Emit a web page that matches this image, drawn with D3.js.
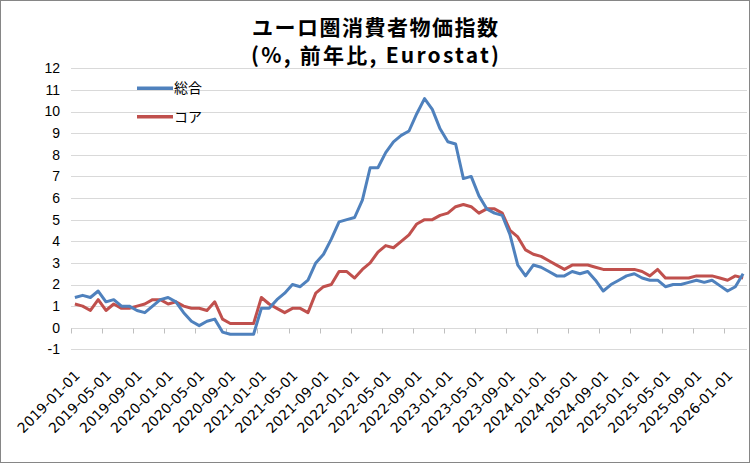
<!DOCTYPE html>
<html>
<head>
<meta charset="utf-8">
<script src="https://cdn.jsdelivr.net/npm/d3@7"></script>
<style>
  body { margin: 0; background: #fff; }
  svg { display: block; }
</style>
</head>
<body>
<div id="chart"></div>
<script>
// Months shown on the category axis
const months = [
  '2019-01-01','2019-02-01','2019-03-01','2019-04-01','2019-05-01','2019-06-01','2019-07-01','2019-08-01','2019-09-01','2019-10-01','2019-11-01','2019-12-01',
  '2020-01-01','2020-02-01','2020-03-01','2020-04-01','2020-05-01','2020-06-01','2020-07-01','2020-08-01','2020-09-01','2020-10-01','2020-11-01','2020-12-01',
  '2021-01-01','2021-02-01','2021-03-01','2021-04-01','2021-05-01','2021-06-01','2021-07-01','2021-08-01','2021-09-01','2021-10-01','2021-11-01','2021-12-01',
  '2022-01-01','2022-02-01','2022-03-01','2022-04-01','2022-05-01','2022-06-01','2022-07-01','2022-08-01','2022-09-01','2022-10-01','2022-11-01','2022-12-01',
  '2023-01-01','2023-02-01','2023-03-01','2023-04-01','2023-05-01','2023-06-01','2023-07-01','2023-08-01','2023-09-01','2023-10-01','2023-11-01','2023-12-01',
  '2024-01-01','2024-02-01','2024-03-01','2024-04-01','2024-05-01','2024-06-01','2024-07-01','2024-08-01','2024-09-01','2024-10-01','2024-11-01','2024-12-01',
  '2025-01-01','2025-02-01','2025-03-01','2025-04-01','2025-05-01','2025-06-01','2025-07-01','2025-08-01','2025-09-01','2025-10-01','2025-11-01','2025-12-01',
  '2026-01-01','2026-02-01','2026-03-01'
]

// 総合 (headline HICP, % y/y)
const headline = [
  1.4, 1.5, 1.4, 1.7, 1.2, 1.3, 1.0, 1.0, 0.8, 0.7, 1.0, 1.3,
  1.4, 1.2, 0.7, 0.3, 0.1, 0.3, 0.4, -0.2, -0.3, -0.3, -0.3, -0.3,
  0.9, 0.9, 1.3, 1.6, 2.0, 1.9, 2.2, 3.0, 3.4, 4.1, 4.9, 5.0,
  5.1, 5.9, 7.4, 7.4, 8.1, 8.6, 8.9, 9.1, 9.9, 10.6, 10.1, 9.2,
  8.6, 8.5, 6.9, 7.0, 6.1, 5.5, 5.3, 5.2, 4.3, 2.9, 2.4, 2.9,
  2.8, 2.6, 2.4, 2.4, 2.6, 2.5, 2.6, 2.2, 1.7, 2.0, 2.2, 2.4,
  2.5, 2.3, 2.2, 2.2, 1.9, 2.0, 2.0, 2.1, 2.2, 2.1, 2.2, 1.95,
  1.7, 1.9, 2.5
]

// コア (ex energy, food, alcohol & tobacco)
const core = [
  1.1, 1.0, 0.8, 1.3, 0.8, 1.1, 0.9, 0.9, 1.0, 1.1, 1.3, 1.3,
  1.1, 1.2, 1.0, 0.9, 0.9, 0.8, 1.2, 0.4, 0.2, 0.2, 0.2, 0.2,
  1.4, 1.1, 0.9, 0.7, 0.9, 0.9, 0.7, 1.6, 1.9, 2.0, 2.6, 2.6,
  2.3, 2.7, 3.0, 3.5, 3.8, 3.7, 4.0, 4.3, 4.8, 5.0, 5.0, 5.2,
  5.3, 5.6, 5.7, 5.6, 5.3, 5.5, 5.5, 5.3, 4.5, 4.2, 3.6, 3.4,
  3.3, 3.1, 2.9, 2.7, 2.9, 2.9, 2.9, 2.8, 2.7, 2.7, 2.7, 2.7,
  2.7, 2.6, 2.4, 2.7, 2.3, 2.3, 2.3, 2.3, 2.4, 2.4, 2.4, 2.3,
  2.2, 2.4, 2.3
]

const yTicks = [-1, 0, 1, 2, 3, 4, 5, 6, 7, 8, 9, 10, 11, 12]

const series = [
  { name: '総合', values: headline, color: '#4f81bd' },
  { name: 'コア', values: core, color: '#c0504d' }
]

const width = 750
const height = 463
const margin = { left: 71, right: 3, top: 68.3, bottom: 113.6 }

const svg = d3.select('#chart').append('svg')
  .attr('width', width)
  .attr('height', height)

// outer frame
svg.append('rect')
  .attr('x', 0.5).attr('y', 0.5)
  .attr('width', width - 1).attr('height', height - 1)
  .attr('fill', '#fff')
  .attr('stroke', '#868686')

const x = d3.scaleBand()
  .domain(months)
  .range([margin.left, width - margin.right])
  .padding(0)

const y = d3.scaleLinear()
  .domain([-1, 12])
  .range([height - margin.bottom, margin.top])

const cx = d => x(d) + x.bandwidth() / 2

// horizontal gridlines
svg.append('g')
  .selectAll('line')
  .data(yTicks)
  .join('line')
  .attr('x1', margin.left)
  .attr('x2', width - margin.right)
  .attr('y1', d => Math.round(y(d)) + 0.5)
  .attr('y2', d => Math.round(y(d)) + 0.5)
  .attr('stroke', '#d9d9d9')
  .attr('stroke-width', 1)

// y labels
svg.append('g')
  .selectAll('text')
  .data(yTicks)
  .join('text')
  .attr('x', 60)
  .attr('y', d => y(d))
  .attr('dy', '0.35em')
  .attr('text-anchor', 'end')
  .attr('font-family', 'Liberation Sans, Arial, sans-serif')
  .attr('font-size', '14px')
  .attr('fill', '#000')
  .text(d => d)

// category ticks on the zero line, every 4 months
const tickMonths = months.filter((d, i) => i % 4 === 0)
const y0 = Math.round(y(0)) + 0.5

svg.append('g')
  .selectAll('line')
  .data(tickMonths)
  .join('line')
  .attr('x1', d => Math.round(x(d)) + 0.5)
  .attr('x2', d => Math.round(x(d)) + 0.5)
  .attr('y1', y0)
  .attr('y2', y0 + 5)
  .attr('stroke', '#bfbfbf')

// rotated month labels at the bottom
svg.append('g')
  .selectAll('text')
  .data(tickMonths)
  .join('text')
  .attr('transform', d => `translate(${cx(d) + 6},${y(-1) + 27}) rotate(-45)`)
  .attr('text-anchor', 'end')
  .attr('font-family', 'DejaVu Sans, sans-serif')
  .attr('font-size', '14px')
  .attr('fill', '#000')
  .text(d => d)

// lines
const line = d3.line()
  .x((d, i) => cx(months[i]))
  .y(d => y(d))

svg.append('g')
  .selectAll('path')
  .data(series.slice().reverse())
  .join('path')
  .attr('d', d => line(d.values))
  .attr('fill', 'none')
  .attr('stroke', d => d.color)
  .attr('stroke-width', 3)
  .attr('stroke-linejoin', 'round')

// legend
const legend = svg.append('g')
  .selectAll('g')
  .data(series)
  .join('g')
  .attr('transform', (d, i) => `translate(137,${88.3 + i * 28.4})`)

legend.append('line')
  .attr('x1', 0).attr('x2', 36)
  .attr('stroke', d => d.color)
  .attr('stroke-width', 3.5)

legend.append('text')
  .attr('x', 37)
  .attr('dy', '0.36em')
  .attr('font-family', 'Noto Sans CJK JP, sans-serif')
  .attr('font-size', '14px')
  .attr('fill', '#000')
  .text(d => d.name)

// title (two lines, stretched to the reference width)
const titleLines = ['ユーロ圏消費者物価指数', '(%, 前年比, Eurostat)']
svg.append('g')
  .selectAll('text')
  .data(titleLines)
  .join('text')
  .attr('x', 375)
  .attr('y', (d, i) => 35 + i * 27.5)
  .attr('text-anchor', 'middle')
  .attr('textLength', (d, i) => i === 0 ? 246 : 248)
  .attr('lengthAdjust', 'spacing')
  .attr('font-family', 'Noto Sans CJK JP, sans-serif')
  .attr('font-weight', 'bold')
  .attr('font-size', '21px')
  .attr('fill', '#000')
  .text(d => d)
</script>
</body>
</html>
